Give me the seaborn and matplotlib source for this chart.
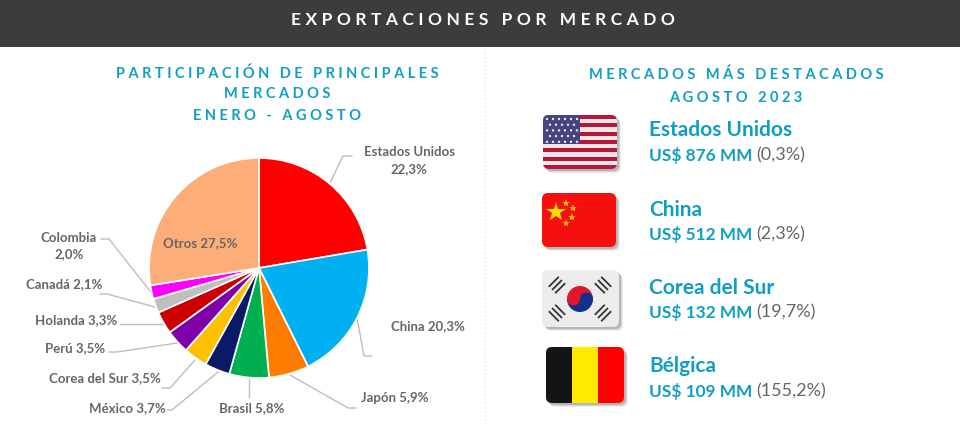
import matplotlib
matplotlib.use("Agg")
import matplotlib.pyplot as plt
from matplotlib.patches import FancyBboxPatch, Rectangle, Circle, Wedge
import seaborn as sns

sns.set_theme(style="white")
plt.rcParams['font.family'] = ['Lato', 'DejaVu Sans']

# data
mercados = ["Estados Unidos", "China", "Japón", "Brasil", "México", "Corea del Sur",
            "Perú", "Holanda", "Canadá", "Colombia", "Otros"]
participacion = [22.3, 20.3, 5.9, 5.8, 3.7, 3.5, 3.5, 3.3, 2.1, 2.0, 27.5]
colores = ["#ff0000", "#00b0f0", "#ff7c00", "#00b050", "#0a1a66", "#ffc000",
           "#7f00a8", "#cc0000", "#bfbfbf", "#ff00ff", "#fdae78"]

destacados = ["Estados Unidos", "China", "Corea del Sur", "Bélgica"]
montos = ["US$ 876 MM", "US$ 512 MM", "US$ 132 MM", "US$ 109 MM"]
variacion = ["(0,3%)", "(2,3%)", "(19,7%)", "(155,2%)"]

AZUL = "#0f9fc2"
GRIS = "#666666"
LINEA = "#bdbdbd"


def spaced(s):
    # letter spacing, matplotlib has no option for it
    return "\u200a\u200a\u200a\u200a".join(s)


fig = plt.figure(figsize=(9.6, 4.24), dpi=100, facecolor="white")

# whole figure axes in pixels for text, lines and flags
bg = fig.add_axes([0, 0, 1, 1], zorder=1)
bg.set_xlim(0, 960)
bg.set_ylim(424, 0)
bg.axis("off")
bg.patch.set_alpha(0)

# pie
R = 110
cx, cy = 259, 268
ax = fig.add_axes([(cx - R) / 960, 1 - (cy + R) / 424, 2 * R / 960, 2 * R / 424], zorder=2)
ax.pie(participacion, colors=colores, startangle=90, counterclock=False, radius=1,
       wedgeprops=dict(edgecolor="white", linewidth=1.2))
ax.set_xlim(-1, 1)
ax.set_ylim(-1, 1)

# header
bg.add_patch(Rectangle((0, 0), 960, 47, color="#3c3c3c", lw=0))
bg.text(483, 20, spaced("EXPORTACIONES POR MERCADO"), color="white", fontsize=12.5,
        fontweight="bold", ha="center", va="center")

# divider
bg.plot([485, 485], [48, 424], color="#d5eef3", lw=1, ls=(0, (1, 2)))

# titles
for txt, y in [("PARTICIPACIÓN DE PRINCIPALES", 73.5), ("MERCADOS", 94.5), ("ENERO - AGOSTO", 116.5)]:
    bg.text(277, y, spaced(txt), color=AZUL, fontsize=10.5, fontweight="bold", ha="center", va="center")
for txt, y in [("MERCADOS MÁS DESTACADOS", 74.5), ("AGOSTO 2023", 97.5)]:
    bg.text(736, y, spaced(txt), color=AZUL, fontsize=10.5, fontweight="bold", ha="center", va="center")


def pct(v):
    return f"{v:.1f}%".replace(".", ",")


# pie labels: text centre and leader line, in pixels
etiquetas = [
    (409, 161, "\n", [(352, 156), (343, 156), (330, 183)]),
    (428, 326, " ", [(372, 356), (364, 356), (357, 318)]),
    (395, 398, " ", [(356, 408), (348, 408), (290, 375)]),
    (252, 408, " ", [(249, 397), (249, 379)]),
    (127, 408, " ", [(167, 410), (172, 410), (218, 372)]),
    (105, 378, " ", [(162, 388), (170, 388), (195, 360)]),
    (75, 348, " ", [(109, 352), (117, 352), (177, 343)]),
    (76, 320, " ", [(120, 324), (163, 324)]),
    (64, 284, " ", [(100, 294), (107, 294), (155, 307)]),
    (69, 246, "\n", [(101, 239), (109, 239), (150, 291)]),
]
for (x, y, sep, linea), nombre, v in zip(etiquetas, mercados, participacion):
    bg.text(x, y, nombre + sep + pct(v), color=GRIS, fontsize=9.5, fontweight="bold",
            ha="center", va="center", linespacing=1.5, zorder=5)
    bg.plot([p[0] for p in linea], [p[1] for p in linea], color=LINEA, lw=1, zorder=1)

ax.text(-0.536, 0.227, "Otros " + pct(participacion[-1]), color=GRIS, fontsize=9.5,
        fontweight="bold", ha="center", va="center")


# flags
def caja(x0, y0, x1, y1, color, z=3, clip=None):
    r = Rectangle((x0, y0), x1 - x0, y1 - y0, color=color, lw=0, zorder=z)
    bg.add_patch(r)
    if clip is not None:
        r.set_clip_path(clip)
    return r


def base(x0, y0, x1, y1, color):
    for d, a in [(4, 0.10), (3, 0.15), (2, 0.25)]:
        bg.add_patch(FancyBboxPatch((x0 + 5 + d, y0 + 5 + d), x1 - x0 - 10, y1 - y0 - 10,
                                    boxstyle="round,pad=5,rounding_size=6", color="#555555",
                                    alpha=a, lw=0, zorder=2))
    p = FancyBboxPatch((x0 + 5, y0 + 5), x1 - x0 - 10, y1 - y0 - 10,
                       boxstyle="round,pad=5,rounding_size=6", facecolor=color, lw=0, zorder=3)
    bg.add_patch(p)
    return p


# USA
x0, y0, x1, y1 = 543, 115, 617, 169
clip = base(x0, y0, x1, y1, "#f2e6ea")
h = (y1 - y0) / 13
for i in range(0, 13, 2):
    caja(x0, y0 + i * h, x1, y0 + (i + 1) * h, "#b5173a", z=4, clip=clip)
caja(x0, y0, x0 + 37, y0 + 7 * h, "#45447e", z=5, clip=clip)
for row in range(5):
    for col in range(6 - row % 2):
        bg.add_patch(Circle((x0 + 4 + col * 6 + (row % 2) * 3, y0 + 4 + row * 5.7), 1.2,
                            color="#e8e8f0", lw=0, zorder=6))

# China
clip = base(542, 193, 616, 247, "#f60f0f")
bg.plot([556], [212], marker="*", ms=15, color="#ffdc00", mew=0, zorder=5)
for sx, sy in [(566, 203), (573, 208), (572, 217), (566, 223)]:
    bg.plot([sx], [sy], marker="*", ms=6, color="#f5b800", mew=0, zorder=5)

# Corea
x0, y0, x1, y1 = 542, 270, 619, 327
base(x0, y0, x1, y1, "#ececec")
kx, ky = 580, 299
bg.add_patch(Wedge((kx, ky), 13, 180, 360, color="#e0162b", lw=0, zorder=4))   # y axis is inverted
bg.add_patch(Wedge((kx, ky), 13, 0, 180, color="#10308c", lw=0, zorder=4))
bg.add_patch(Circle((kx - 6.5, ky), 6.5, color="#e0162b", lw=0, zorder=5))
bg.add_patch(Circle((kx + 6.5, ky), 6.5, color="#10308c", lw=0, zorder=5))
for dx, dy in [(-1, -1), (1, -1), (-1, 1), (1, 1)]:
    bx, by = kx + dx * 23, ky + dy * 14
    ux, uy = (dy, -dx)  # along the bar
    for k in (-1, 0, 1):
        px, py = bx + dx * k * 3.2, by + dy * k * 3.2
        bg.plot([px - ux * 5, px + ux * 5], [py - uy * 5, py + uy * 5],
                color="#333333", lw=1.3, zorder=5, solid_capstyle="butt")

# Belgica
x0, y0, x1, y1 = 546, 347, 624, 403
clip = base(x0, y0, x1, y1, "#ffe900")
caja(x0, y0, x0 + 26, y1, "#141414", z=4, clip=clip)
caja(x0 + 26, y0, x0 + 52, y1, "#ffe900", z=4, clip=clip)
caja(x0 + 52, y0, x1, y1, "#ff0000", z=4, clip=clip)

# right side text
ys = [130.5, 209.5, 287.5, 366.5]
fig.canvas.draw()
rend = fig.canvas.get_renderer()
for y, nombre, monto, var in zip(ys, destacados, montos, variacion):
    bg.text(649, y, nombre, color=AZUL, fontsize=15, fontweight="bold", ha="left", va="center")
    t = bg.text(649, y + 25, monto, color=AZUL, fontsize=12.4, fontweight="bold", ha="left", va="center")
    ancho = t.get_window_extent(rend).width
    bg.text(649 + ancho + 4, y + 25, var, color=GRIS, fontsize=13, ha="left", va="center")

fig.savefig("out.png", dpi=100)
